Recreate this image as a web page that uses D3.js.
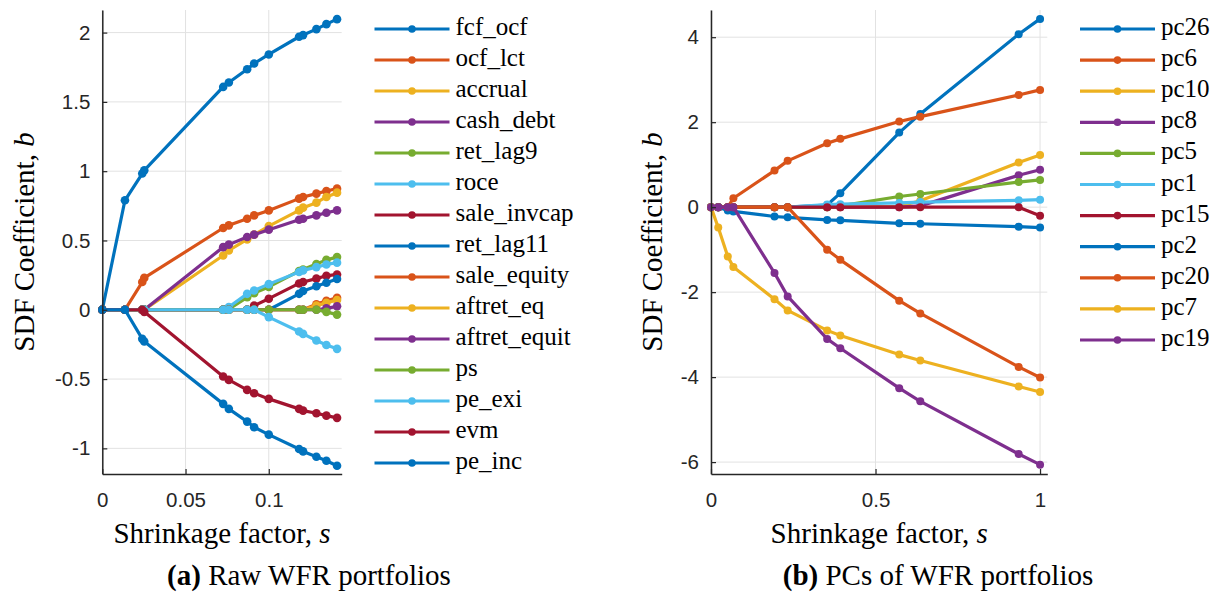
<!DOCTYPE html>
<html>
<head>
<meta charset="utf-8">
<script src="https://cdn.jsdelivr.net/npm/d3@7"></script>
<style>
  body { margin: 0; background: #fff; }
  svg { display: block; }
</style>
</head>
<body>
<svg id="chart" width="1221" height="592"></svg>
<script>
// ---- Panel (a): raw WFR portfolios ----
const sRaw = [0, 0.0136, 0.024, 0.0252, 0.0726, 0.076, 0.087, 0.0912, 0.1, 0.1182, 0.1206, 0.1286, 0.1346, 0.141];
const rawNames = ["fcf_ocf", "ocf_lct", "accrual", "cash_debt", "ret_lag9", "roce", "sale_invcap",
                  "ret_lag11", "sale_equity", "aftret_eq", "aftret_equit", "ps", "pe_exi", "evm", "pe_inc"];
const fcf_ocf      = [0, 0.79, 0.983, 1.006, 1.608, 1.64, 1.736, 1.777, 1.842, 1.97, 1.982, 2.025, 2.061, 2.097];
const ocf_lct      = [0, 0, 0.2, 0.23, 0.59, 0.609, 0.657, 0.681, 0.717, 0.802, 0.814, 0.838, 0.857, 0.874];
const accrual      = [0, 0, 0, 0, 0.392, 0.428, 0.508, 0.542, 0.604, 0.717, 0.737, 0.773, 0.814, 0.845];
const cash_debt    = [0, 0, 0, 0, 0.452, 0.47, 0.525, 0.542, 0.578, 0.65, 0.657, 0.681, 0.7, 0.717];
const ret_lag9     = [0, 0, 0, 0, 0, 0.005, 0.09, 0.12, 0.165, 0.28, 0.29, 0.33, 0.36, 0.38];
const roce         = [0, 0, 0, 0, 0, 0.02, 0.115, 0.139, 0.185, 0.272, 0.284, 0.308, 0.327, 0.34];
const sale_invcap  = [0, 0, 0, 0, 0, 0, 0, 0.03, 0.08, 0.19, 0.2, 0.225, 0.245, 0.255];
const ret_lag11    = [0, 0, 0, 0, 0, 0, 0, 0, 0, 0.115, 0.135, 0.17, 0.195, 0.222];
const sale_equity  = [0, 0, 0, 0, 0, 0, 0, 0, 0, 0, 0, 0.04, 0.065, 0.087];
const aftret_eq    = [0, 0, 0, 0, 0, 0, 0, 0, 0, 0, 0, 0.03, 0.05, 0.07];
const aftret_equit = [0, 0, 0, 0, 0, 0, 0, 0, 0, 0, 0, 0, 0.01, 0.025];
const ps           = [0, 0, 0, 0, 0, 0, 0, 0, 0, 0, 0, 0, -0.015, -0.035];
const pe_exi       = [0, 0, 0, 0, 0, 0, 0, 0, -0.053, -0.157, -0.174, -0.222, -0.254, -0.282];
const evm          = [0, 0, 0, -0.015, -0.482, -0.506, -0.578, -0.602, -0.643, -0.715, -0.728, -0.747, -0.764, -0.78];
const pe_inc       = [0, 0, -0.21, -0.229, -0.679, -0.715, -0.807, -0.848, -0.901, -1.005, -1.022, -1.06, -1.089, -1.125];
const rawValues = [fcf_ocf, ocf_lct, accrual, cash_debt, ret_lag9, roce, sale_invcap,
                   ret_lag11, sale_equity, aftret_eq, aftret_equit, ps, pe_exi, evm, pe_inc];
const xTicksRaw = [0, 0.05, 0.1];
const yTicksRaw = [-1, -0.5, 0, 0.5, 1, 1.5, 2];

// ---- Panel (b): principal components of WFR portfolios ----
const sPc = [0, 0.022, 0.051, 0.068, 0.193, 0.233, 0.353, 0.393, 0.572, 0.636, 0.935, 1.0];
const pcNames = ["pc26", "pc6", "pc10", "pc8", "pc5", "pc1", "pc15", "pc2", "pc20", "pc7", "pc19"];
const pc26 = [0, 0, 0, 0, 0, 0, 0.05, 0.33, 1.755, 2.195, 4.07, 4.43];
const pc6  = [0, 0, 0, 0.21, 0.86, 1.09, 1.506, 1.607, 2.015, 2.13, 2.64, 2.76];
const pc10 = [0, 0, 0, 0, 0, 0, 0, 0, 0.02, 0.15, 1.05, 1.23];
const pc8  = [0, 0, 0, 0, 0, 0, 0, 0, 0, 0.03, 0.75, 0.88];
const pc5  = [0, 0, 0, 0, 0, 0, 0, 0.03, 0.25, 0.31, 0.59, 0.64];
const pc1  = [0, 0, 0, 0, 0, 0, 0.06, 0.07, 0.1, 0.12, 0.16, 0.175];
const pc15 = [0, 0, 0, 0, 0, 0, 0, 0, 0, 0, 0, -0.2];
const pc2  = [0, 0, -0.08, -0.1, -0.22, -0.24, -0.3, -0.31, -0.38, -0.39, -0.46, -0.48];
const pc20 = [0, 0, 0, 0, 0, 0, -1.0, -1.24, -2.2, -2.5, -3.76, -4.01];
const pc7  = [0, -0.48, -1.16, -1.41, -2.165, -2.43, -2.9, -3.02, -3.47, -3.61, -4.22, -4.35];
const pc19 = [0, 0, 0, 0, -1.55, -2.1, -3.1, -3.32, -4.26, -4.57, -5.81, -6.06];
const pcValues = [pc26, pc6, pc10, pc8, pc5, pc1, pc15, pc2, pc20, pc7, pc19];
const xTicksPc = [0, 0.5, 1];
const yTicksPc = [-6, -4, -2, 0, 2, 4];

// MATLAB default line colour order
const colorOrder = ["#0072BD", "#D95319", "#EDB120", "#7E2F8E", "#77AC30", "#4DBEEE", "#A2142F"];

const svg = d3.select("#chart");
const serif = "'Liberation Serif', 'Times New Roman', serif";
const sans = "'Liberation Sans', Arial, Helvetica, sans-serif";
const axisColor = "#262626";

function drawPanel(cfg) {
  const x = d3.scaleLinear().domain(cfg.xDomain).range([cfg.left, cfg.right]);
  const y = d3.scaleLinear().domain(cfg.yDomain).range([cfg.bottom, cfg.top]);
  const g = svg.append("g");

  // grid
  g.append("g").selectAll("line.vg").data(cfg.xTicks).join("line")
    .attr("x1", d => x(d)).attr("x2", d => x(d))
    .attr("y1", cfg.top).attr("y2", cfg.bottom)
    .attr("stroke", "#e2e2e2").attr("stroke-width", 1);
  g.append("g").selectAll("line.hg").data(cfg.yTicks).join("line")
    .attr("x1", cfg.left).attr("x2", cfg.right)
    .attr("y1", d => y(d)).attr("y2", d => y(d))
    .attr("stroke", "#e2e2e2").attr("stroke-width", 1);

  // series
  const line = d3.line().x(d => x(d[0])).y(d => y(d[1]));
  cfg.values.forEach((vals, i) => {
    const pts = cfg.s.map((s, k) => [s, vals[k]]);
    const c = colorOrder[i % colorOrder.length];
    const sg = g.append("g");
    sg.append("path").datum(pts).attr("d", line)
      .attr("fill", "none").attr("stroke", c).attr("stroke-width", 3.2)
      .attr("stroke-linejoin", "round");
    sg.selectAll("circle").data(pts).join("circle")
      .attr("cx", d => x(d[0])).attr("cy", d => y(d[1])).attr("r", cfg.markerR)
      .attr("fill", c);
  });

  // axes
  const fmt = d => String(d);
  const xAxis = g.append("g").attr("transform", `translate(0,${cfg.bottom})`)
    .call(d3.axisBottom(x).tickValues(cfg.xTicks).tickFormat(fmt)
      .tickSizeInner(-5).tickSizeOuter(0).tickPadding(18));
  const yAxis = g.append("g").attr("transform", `translate(${cfg.left},0)`)
    .call(d3.axisLeft(y).tickValues(cfg.yTicks).tickFormat(fmt)
      .tickSizeInner(-5).tickSizeOuter(0).tickPadding(12));
  [xAxis, yAxis].forEach(a => {
    a.select(".domain").attr("stroke", axisColor).attr("stroke-width", 1.5);
    a.selectAll(".tick line").attr("stroke", axisColor).attr("stroke-width", 1.2);
    a.selectAll(".tick text").attr("fill", axisColor)
      .style("font-family", sans).style("font-size", "20.5px");
  });

  // axis labels
  const xl = g.append("text").attr("x", (cfg.left + cfg.right) / 2).attr("y", 543)
    .attr("text-anchor", "middle").style("font-family", serif).style("font-size", "29px")
    .attr("fill", "#000");
  xl.append("tspan").text("Shrinkage factor, ");
  xl.append("tspan").attr("font-style", "italic").text("s");

  const yl = g.append("text")
    .attr("transform", `translate(${cfg.yLabelX},${(cfg.top + cfg.bottom) / 2}) rotate(-90)`)
    .attr("text-anchor", "middle").style("font-family", serif).style("font-size", "29px")
    .attr("fill", "#000");
  yl.append("tspan").text("SDF Coefficient, ");
  yl.append("tspan").attr("font-style", "italic").text("b");

  // legend
  const lg = g.append("g");
  cfg.names.forEach((name, i) => {
    const ry = cfg.legendTop + i * cfg.legendStep;
    const c = colorOrder[i % colorOrder.length];
    lg.append("line").attr("x1", cfg.legendX).attr("x2", cfg.legendX + 75)
      .attr("y1", ry).attr("y2", ry).attr("stroke", c).attr("stroke-width", 3.2);
    lg.append("circle").attr("cx", cfg.legendX + 37.5).attr("cy", ry).attr("r", 3.8).attr("fill", c);
    lg.append("text").attr("x", cfg.legendX + 81).attr("y", ry + 6)
      .style("font-family", serif).style("font-size", "25px").attr("fill", "#000")
      .text(name);
  });

  // caption
  const cap = svg.append("text").attr("x", cfg.captionX).attr("y", 585)
    .attr("text-anchor", "middle").style("font-family", serif).style("font-size", "29px")
    .attr("fill", "#000");
  cap.append("tspan").attr("font-weight", "bold").text(cfg.captionTag);
  cap.append("tspan").text(" " + cfg.caption);
}

drawPanel({
  s: sRaw, values: rawValues, names: rawNames,
  xDomain: [0, 0.1438], yDomain: [-1.185, 2.163],
  xTicks: xTicksRaw, yTicks: yTicksRaw, markerR: 4.3,
  left: 102.3, right: 341.7, top: 10, bottom: 474,
  yLabelX: 34, legendX: 374.5, legendTop: 29, legendStep: 31,
  captionX: 309, captionTag: "(a)", caption: "Raw WFR portfolios"
});

drawPanel({
  s: sPc, values: pcValues, names: pcNames,
  xDomain: [0, 1.022], yDomain: [-6.28, 4.64],
  xTicks: xTicksPc, yTicks: yTicksPc, markerR: 4,
  left: 711, right: 1047.3, top: 10, bottom: 474,
  yLabelX: 662, legendX: 1080, legendTop: 29, legendStep: 31.1,
  captionX: 938, captionTag: "(b)", caption: "PCs of WFR portfolios"
});
</script>
</body>
</html>
